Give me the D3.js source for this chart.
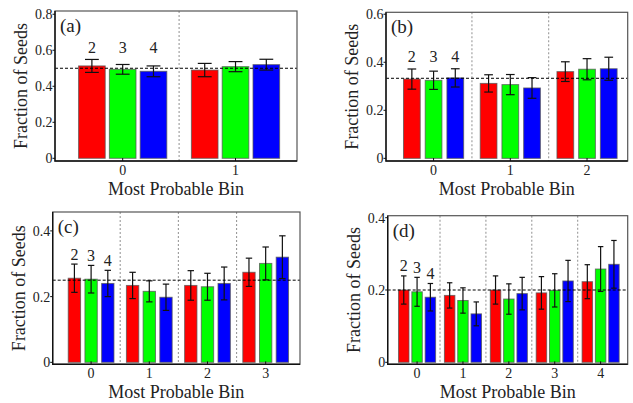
<!DOCTYPE html>
<html>
<head>
<meta charset="utf-8">
<script src="https://cdn.jsdelivr.net/npm/d3@7"></script>
</head>
<body style="margin:0">
<script>
///////////////////////////////////////////////////////////////////////////
////////////////////////////// The data ///////////////////////////////////
///////////////////////////////////////////////////////////////////////////

	var seriesNames = ["2", "3", "4"],
		seriesColors = ["#ff0000", "#00ff00", "#0000ff"];

	//Fraction of seeds per most probable bin, one value per series (2, 3, 4)
	var fracA = [[0.513, 0.494, 0.483], [0.490, 0.509, 0.520]];
	var errA  = [[0.036, 0.027, 0.030], [0.037, 0.028, 0.030]];

	var fracB = [[0.330, 0.325, 0.335], [0.312, 0.307, 0.293], [0.361, 0.371, 0.373]];
	var errB  = [[0.042, 0.038, 0.038], [0.036, 0.042, 0.043], [0.041, 0.044, 0.048]];

	var fracC = [[0.256, 0.253, 0.240], [0.234, 0.216, 0.198], [0.234, 0.230, 0.240], [0.274, 0.301, 0.320]];
	var errC  = [[0.043, 0.042, 0.040], [0.040, 0.032, 0.040], [0.045, 0.041, 0.050], [0.043, 0.050, 0.065]];

	var fracD = [[0.200, 0.195, 0.180], [0.185, 0.171, 0.134], [0.200, 0.175, 0.190], [0.192, 0.199, 0.225], [0.223, 0.258, 0.271]];
	var errD  = [[0.039, 0.040, 0.038], [0.035, 0.035, 0.033], [0.039, 0.042, 0.045], [0.045, 0.046, 0.057], [0.047, 0.062, 0.066]];

	var ticksA = [0, 0.2, 0.4, 0.6, 0.8],
		ticksB = [0, 0.2, 0.4, 0.6],
		ticksC = [0, 0.2, 0.4],
		ticksD = [0, 0.2, 0.4];

///////////////////////////////////////////////////////////////////////////
/////////////////////////// Panel settings ////////////////////////////////
///////////////////////////////////////////////////////////////////////////

	var panels = [
		{name: "(a)", frac: fracA, err: errA, ticks: ticksA, box: {left: 55, top: 11, right: 297, bottom: 161},
			xDomain: [-0.6, 1.545], yDomain: [-0.015, 0.818], step: 0.273, barW: 0.236, alignLabels: true},
		{name: "(b)", frac: fracB, err: errB, ticks: ticksB, box: {left: 386, top: 12.3, right: 627.7, bottom: 161},
			xDomain: [-0.62, 2.53], yDomain: [-0.011, 0.608], step: 0.283, barW: 0.218, alignLabels: true},
		{name: "(c)", frac: fracC, err: errC, ticks: ticksC, box: {left: 52.7, top: 212, right: 300, bottom: 364.3},
			xDomain: [-0.66, 3.59], yDomain: [-0.006, 0.4575], step: 0.287, barW: 0.212, alignLabels: false},
		{name: "(d)", frac: fracD, err: errD, ticks: ticksD, box: {left: 387.7, top: 215.7, right: 627.7, bottom: 364.3},
			xDomain: [-0.64, 4.59], yDomain: [-0.0055, 0.4055], step: 0.29, barW: 0.228, alignLabels: false}
	];

	var svg = d3.select("body").append("svg")
		.attr("width", 633)
		.attr("height", 403)
		.attr("font-family", "Liberation Serif, DejaVu Serif, serif");

	svg.append("rect")
		.attr("width", 633)
		.attr("height", 403)
		.attr("fill", "#fff");

	//Small helper so every label gets the Times-like face
	function addText(sel, size) {
		return sel.append("text")
			.attr("font-family", "Liberation Serif, DejaVu Serif, serif")
			.style("font-family", "Liberation Serif")
			.style("font-size", size + "px")
			.attr("fill", "#222");
	}

///////////////////////////////////////////////////////////////////////////
//////////////////////////// Draw one panel ///////////////////////////////
///////////////////////////////////////////////////////////////////////////

	function drawPanel(p) {
		var b = p.box,
			nBins = p.frac.length,
			g = svg.append("g").attr("class", "panel");

		var x = d3.scaleLinear().domain(p.xDomain).range([b.left, b.right]),
			y = d3.scaleLinear().domain(p.yDomain).range([b.bottom, b.top]);

		var bw = x(p.barW) - x(0);

		//Flatten into one record per bar
		var bars = [];
		p.frac.forEach(function(row, bin) {
			row.forEach(function(v, s) {
				bars.push({bin: bin, s: s, v: v, e: p.err[bin][s], cx: x(bin + (s - 1) * p.step)});
			});
		});

		//Dashed dividers between bins
		g.selectAll(".divider")
			.data(d3.range(nBins - 1))
			.enter().append("line")
			.attr("x1", function(d) { return x(d + 0.5); })
			.attr("x2", function(d) { return x(d + 0.5); })
			.attr("y1", b.top)
			.attr("y2", b.bottom)
			.style("stroke", "#9a9a9a")
			.style("stroke-width", 1.1)
			.style("stroke-dasharray", "2,2");

		//Bars
		g.selectAll(".bar")
			.data(bars)
			.enter().append("rect")
			.attr("x", function(d) { return d.cx - bw / 2; })
			.attr("width", bw)
			.attr("y", function(d) { return y(d.v); })
			.attr("height", function(d) { return y(0) - y(d.v); })
			.attr("fill", function(d) { return seriesColors[d.s]; })
			.style("stroke", "#555")
			.style("stroke-opacity", 0.75)
			.style("stroke-width", 1);

		//Error bars
		var eb = g.selectAll(".err")
			.data(bars)
			.enter().append("g")
			.style("stroke", "#111")
			.style("stroke-width", 1.2);
		eb.append("line")
			.attr("x1", function(d) { return d.cx; })
			.attr("x2", function(d) { return d.cx; })
			.attr("y1", function(d) { return y(d.v - d.e); })
			.attr("y2", function(d) { return y(d.v + d.e); });
		eb.selectAll(".cap")
			.data(function(d) { return [{cx: d.cx, val: d.v - d.e}, {cx: d.cx, val: d.v + d.e}]; })
			.enter().append("line")
			.attr("x1", function(d) { return d.cx - bw * 0.26; })
			.attr("x2", function(d) { return d.cx + bw * 0.26; })
			.attr("y1", function(d) { return y(d.val); })
			.attr("y2", function(d) { return y(d.val); });

		//Expected uniform fraction
		g.append("line")
			.attr("x1", b.left)
			.attr("x2", b.right)
			.attr("y1", y(1 / nBins))
			.attr("y2", y(1 / nBins))
			.style("stroke", "#000")
			.style("stroke-width", 1)
			.style("stroke-dasharray", "3,2");

		//Frame
		g.append("rect")
			.attr("x", b.left)
			.attr("y", b.top)
			.attr("width", b.right - b.left)
			.attr("height", b.bottom - b.top)
			.attr("fill", "none")
			.style("stroke", "#555")
			.style("stroke-width", 1.2);
		g.append("path")
			.attr("d", "M" + b.left + "," + b.top + "V" + b.bottom + "H" + b.right)
			.attr("fill", "none")
			.style("stroke", "#111")
			.style("stroke-width", 1.4);

		//Y ticks
		g.selectAll(".ytick")
			.data(p.ticks)
			.enter().append("line")
			.attr("x1", b.left - 2.5)
			.attr("x2", b.left)
			.attr("y1", function(d) { return y(d); })
			.attr("y2", function(d) { return y(d); })
			.style("stroke", "#111");
		p.ticks.forEach(function(t) {
			addText(g, 14)
				.attr("x", b.left - 2.5)
				.attr("y", y(t))
				.attr("dy", "0.35em")
				.style("text-anchor", "end")
				.text(t === 0 ? "0" : d3.format(".1f")(t));
		});

		//X ticks
		g.selectAll(".xtick")
			.data(d3.range(nBins))
			.enter().append("line")
			.attr("x1", function(d) { return x(d); })
			.attr("x2", function(d) { return x(d); })
			.attr("y1", b.bottom)
			.attr("y2", b.bottom - 3)
			.style("stroke", "#111");
		d3.range(nBins).forEach(function(i) {
			addText(g, 14)
				.attr("x", x(i))
				.attr("y", b.bottom + 13.5)
				.style("text-anchor", "middle")
				.text(i);
		});

		//Axis titles
		addText(g, 18)
			.attr("transform", "translate(" + (b.left - 28) + "," + ((b.top + b.bottom) / 2) + ")rotate(-90)")
			.style("text-anchor", "middle")
			.text("Fraction of Seeds");
		addText(g, 18)
			.attr("x", (b.left + b.right) / 2)
			.attr("y", b.bottom + 33.5)
			.style("text-anchor", "middle")
			.text("Most Probable Bin");

		//Panel label
		addText(g, 19)
			.attr("x", b.left + 5)
			.attr("y", b.top + 21)
			.text(p.name);

		//Series names above the first bin
		var firstBin = bars.filter(function(d) { return d.bin === 0; }),
			topPx = d3.min(firstBin, function(d) { return y(d.v + d.e); });
		firstBin.forEach(function(d) {
			addText(g, 16)
				.attr("x", d.cx)
				.attr("y", p.alignLabels ? topPx - 6.5 : y(d.v + d.e) - 4.5)
				.style("text-anchor", "middle")
				.text(seriesNames[d.s]);
		});
	}

	panels.forEach(drawPanel);
</script>
</body>
</html>
